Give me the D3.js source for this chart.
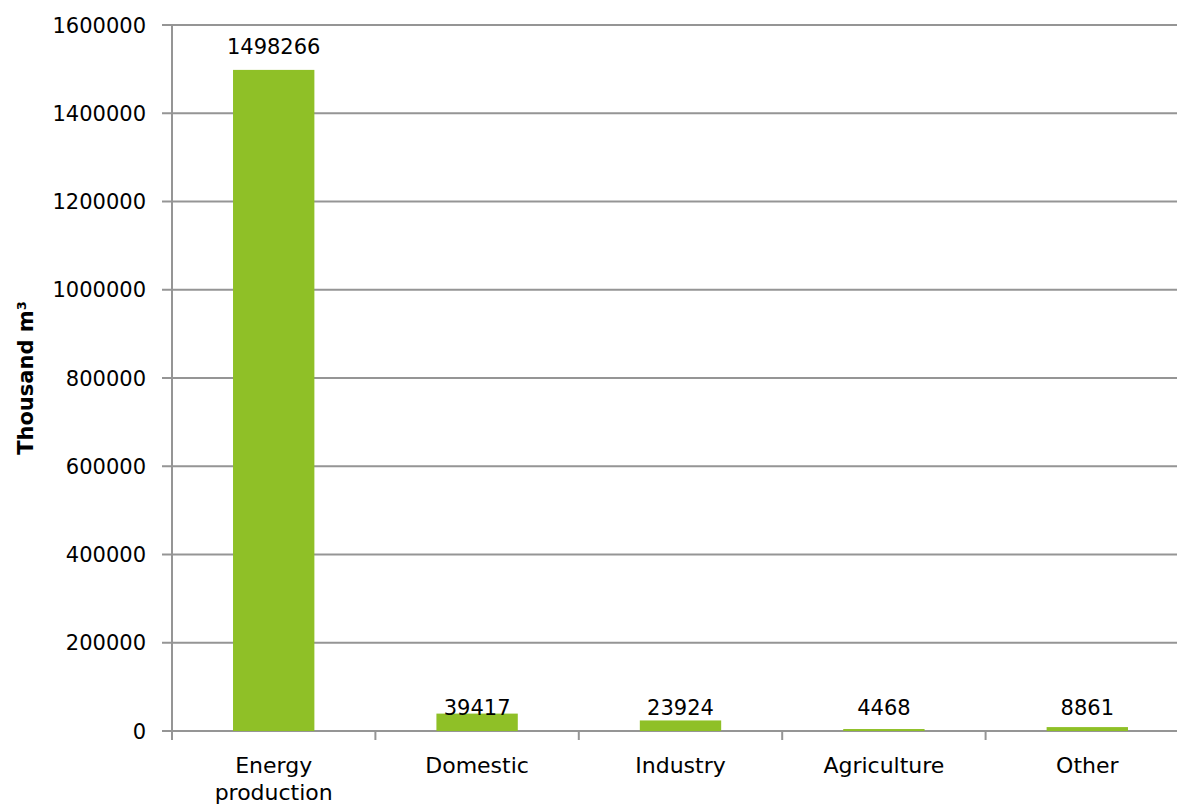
<!DOCTYPE html>
<html>
<head>
<meta charset="utf-8">
<script src="https://cdn.jsdelivr.net/npm/d3@7"></script>
<style>
  html, body { margin: 0; padding: 0; background: #fff; }
  svg { display: block; font-family: "DejaVu Sans", sans-serif; }
</style>
</head>
<body>
<svg id="chart" width="1177" height="808"></svg>
<script>
const categories = [["Energy", "production"], ["Domestic"], ["Industry"], ["Agriculture"], ["Other"]];
const values = [1498266, 39417, 23924, 4468, 8861];
const yTicks = [0, 200000, 400000, 600000, 800000, 1000000, 1200000, 1400000, 1600000];
const yTitle = "Thousand m³";

(function () {
const pLeft = 172, pRight = 1189, pTop = 25, pBottom = 731;
const svg = d3.select("#chart");

const keys = categories.map(c => c.join(" "));
const x = d3.scaleBand().domain(keys).range([pLeft, pRight]).paddingInner(0.6).paddingOuter(0.3);
const y = d3.scaleLinear().domain([0, 1600000]).range([pBottom, pTop]);

const gridColor = "#959595";

// gridlines
svg.append("g").selectAll("line").data(yTicks).join("line")
  .attr("x1", pLeft - 10).attr("x2", pRight)
  .attr("y1", d => y(d)).attr("y2", d => y(d))
  .attr("stroke", gridColor).attr("stroke-width", 2);

// y axis line
svg.append("line").attr("x1", pLeft).attr("x2", pLeft).attr("y1", pTop).attr("y2", pBottom + 9)
  .attr("stroke", gridColor).attr("stroke-width", 2);

// category ticks (band boundaries)
const step = x.step();
const boundaries = d3.range(keys.length + 1).map(i => pLeft + i * step);
svg.append("g").selectAll("line").data(boundaries).join("line")
  .attr("x1", d => d).attr("x2", d => d)
  .attr("y1", pBottom).attr("y2", pBottom + 9)
  .attr("stroke", gridColor).attr("stroke-width", 2);

// y tick labels
svg.append("g").selectAll("text").data(yTicks).join("text")
  .attr("x", pLeft - 26).attr("y", d => y(d))
  .attr("dy", "0.36em")
  .attr("text-anchor", "end")
  .attr("font-size", 21).attr("fill", "#000")
  .text(d => d);

// bars
svg.append("g").selectAll("rect").data(values).join("rect")
  .attr("x", (d, i) => x(keys[i]))
  .attr("width", x.bandwidth())
  .attr("y", d => y(d))
  .attr("height", d => y(0) - y(d))
  .attr("fill", "#8fc027");

// value labels
svg.append("g").selectAll("text").data(values).join("text")
  .attr("x", (d, i) => x(keys[i]) + x.bandwidth() / 2)
  .attr("y", d => (y(0) - y(d) > 30) ? y(d) - 16 : y(0) - 16)
  .attr("text-anchor", "middle")
  .attr("font-size", 21).attr("fill", "#000")
  .text(d => d);

// category labels
const cat = svg.append("g").selectAll("text").data(categories).join("text")
  .attr("x", (d, i) => x(keys[i]) + x.bandwidth() / 2)
  .attr("y", pBottom + 42)
  .attr("text-anchor", "middle")
  .attr("font-size", 22).attr("fill", "#000");
cat.selectAll("tspan").data(d => d).join("tspan")
  .attr("x", function() { return d3.select(this.parentNode).attr("x"); })
  .attr("dy", (d, i) => i === 0 ? 0 : 27)
  .text(d => d);

// y title
svg.append("text")
  .attr("transform", `translate(33, ${(pTop + pBottom) / 2}) rotate(-90)`)
  .attr("text-anchor", "middle")
  .attr("font-size", 21).attr("font-weight", "bold").attr("fill", "#000")
  .text(yTitle);
})();
</script>
</body>
</html>
